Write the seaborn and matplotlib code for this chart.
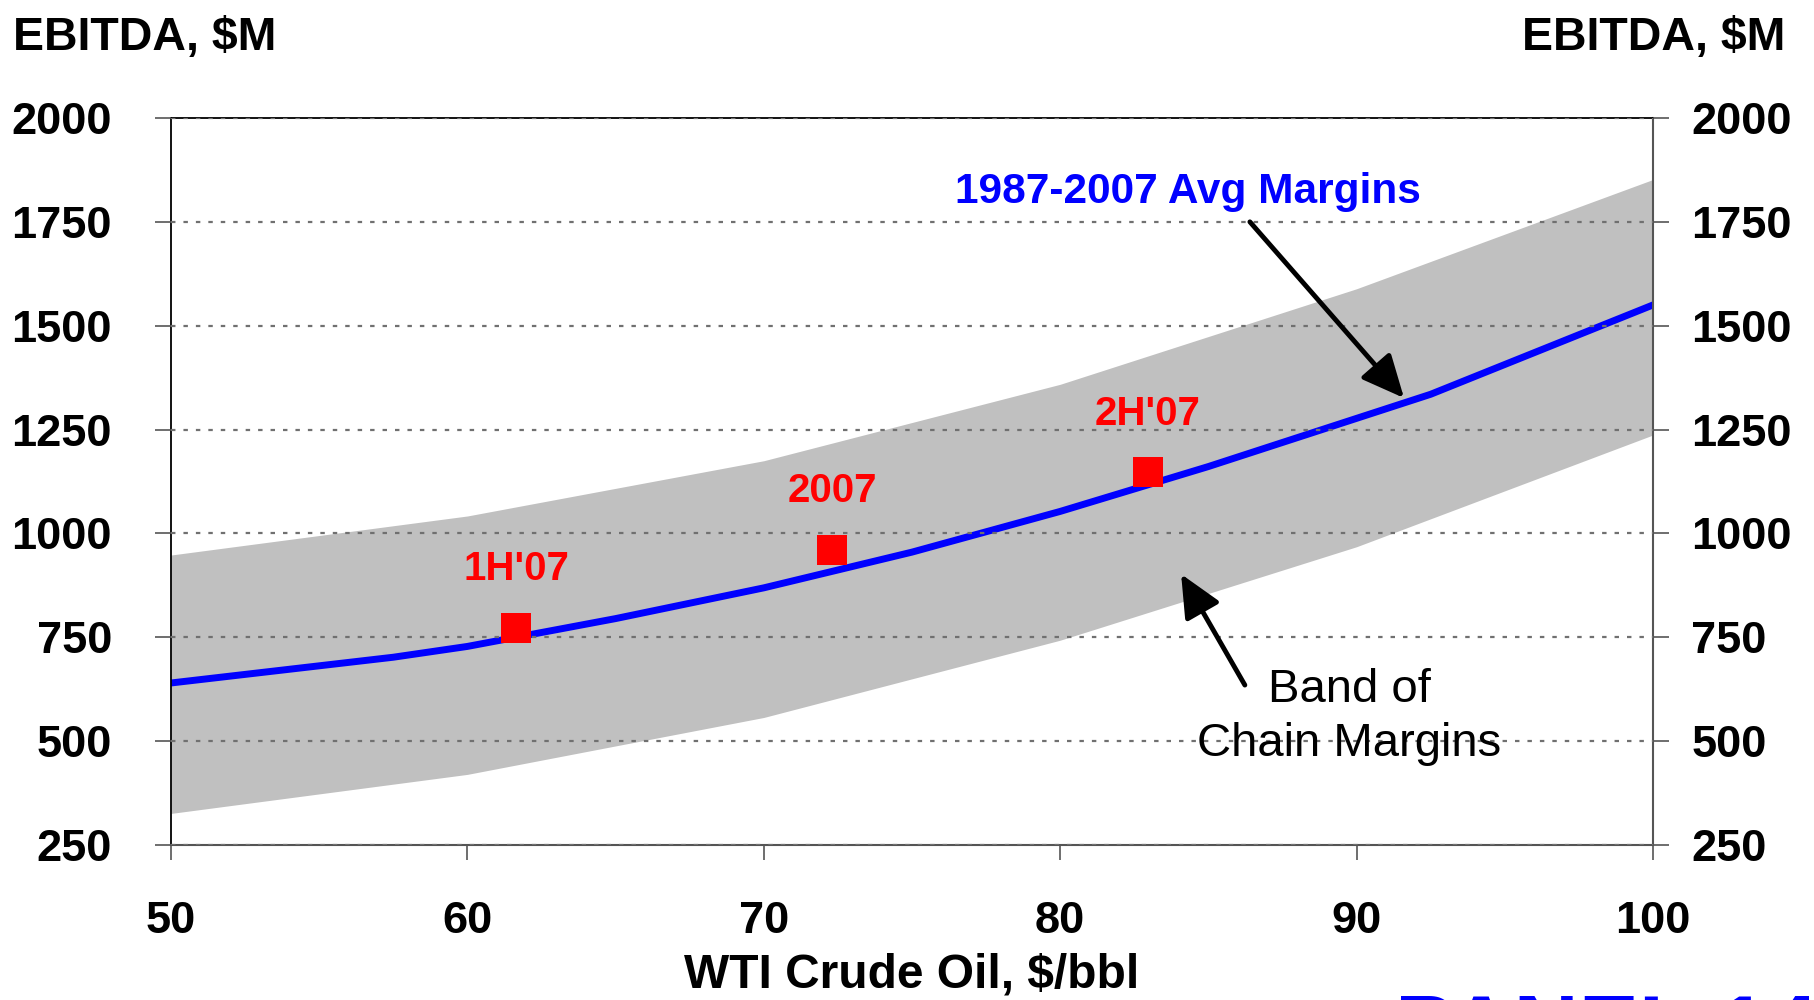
import matplotlib
matplotlib.use("Agg")
import matplotlib.pyplot as plt
import seaborn as sns
import pandas as pd

# ---- data ----
wti_line = [50, 57.5, 60, 65, 70, 75, 80, 85, 92.5, 100]
avg_margin = [640, 702, 728, 795, 869, 955, 1053, 1161, 1335, 1550]

band_x = [50, 60, 70, 80, 90, 100]
band_upper = [948, 1042, 1175, 1359, 1589, 1852]
band_lower = [326, 420, 557, 743, 968, 1237]

point_labels = ["1H'07", "2007", "2H'07"]
point_x = [61.65, 72.3, 82.95]
point_y = [773, 961, 1147]

x_ticks = [50, 60, 70, 80, 90, 100]
y_ticks = [250, 500, 750, 1000, 1250, 1500, 1750, 2000]

sns.set_style("white")
plt.rcParams["font.family"] = ["Liberation Sans", "DejaVu Sans"]
plt.rcParams["text.color"] = "black"
plt.rcParams["axes.labelcolor"] = "black"
plt.rcParams["xtick.color"] = "black"
plt.rcParams["ytick.color"] = "black"

fig = plt.figure(figsize=(18.15, 10), dpi=100)
ax = fig.add_axes([171 / 1815, 1 - 845 / 1000, (1653 - 171) / 1815, (845 - 118) / 1000])

# band
ax.fill_between(band_x, band_lower, band_upper, color="#C0C0C0", linewidth=0, zorder=1)

# average line
df_line = pd.DataFrame({"wti": wti_line, "ebitda": avg_margin})
sns.lineplot(data=df_line, x="wti", y="ebitda", ax=ax, color="#0000FF", linewidth=5,
             zorder=2, solid_capstyle="round")

# points
df_pts = pd.DataFrame({"wti": point_x, "ebitda": point_y, "label": point_labels})
sns.scatterplot(data=df_pts, x="wti", y="ebitda", ax=ax, marker="s", s=22 ** 2,
                color="#FF0000", linewidth=0, zorder=4, legend=False)
for lab, xx, yy in zip(point_labels, point_x, point_y):
    ax.annotate(lab, (xx, yy), xytext=(0, 42), textcoords="offset points",
                ha="center", va="center", fontsize=29, fontweight="bold",
                color="#FF0000", zorder=5)

ax.set_xlim(50, 100)
ax.set_ylim(250, 2000)
ax.set_xticks(x_ticks)
ax.set_yticks(y_ticks)
ax.set_xticklabels([str(v) for v in x_ticks])
ax.set_yticklabels([str(v) for v in y_ticks])

# grid (dashed gray, above the band and the line, below markers)
ax.set_axisbelow(False)
ax.yaxis.grid(True, color="#707070", linestyle=(0, (2.0, 3.6)), linewidth=1.6)
ax.xaxis.grid(False)

for side in ["top", "left"]:
    ax.spines[side].set_color("black")
    ax.spines[side].set_linewidth(1.3)
for side in ["bottom", "right"]:
    ax.spines[side].set_color("#555555")
    ax.spines[side].set_linewidth(1.5)

ax.tick_params(axis="y", which="both", direction="out", length=11.5, width=1.2,
               color="#555555", labelcolor="black", left=True, labelsize=32.5, pad=31)
ax.tick_params(axis="x", which="both", direction="out", length=11, width=1.2,
               color="#555555", labelcolor="black", bottom=True, labelsize=32.5, pad=29)
for t in ax.get_xticklabels() + ax.get_yticklabels():
    t.set_fontweight("bold")

ax.set_xlabel("WTI Crude Oil, $/bbl", fontsize=34.5, fontweight="bold", labelpad=8,
              color="black")
ax.set_ylabel("")

# right axis
ax2 = ax.twinx()
ax2.set_ylim(ax.get_ylim())
ax2.set_yticks(y_ticks)
ax2.set_yticklabels([str(v) for v in y_ticks])
ax2.tick_params(axis="y", direction="out", length=11.5, width=1.2, color="#555555",
                labelcolor="black", right=True, labelsize=32.5, pad=16)
for t in ax2.get_yticklabels():
    t.set_fontweight("bold")
for s in ax2.spines.values():
    s.set_visible(False)

# axis titles
fig.text(13 / 1815, 1 - 38 / 1000, "EBITDA, $M", ha="left", va="center",
         fontsize=33.5, fontweight="bold", color="black")
fig.text(1785 / 1815, 1 - 38 / 1000, "EBITDA, $M", ha="right", va="center",
         fontsize=33.5, fontweight="bold", color="black")

# annotations
arrow_props = dict(arrowstyle="-|>,head_length=1.3,head_width=0.6",
                   color="black", lw=3.5, shrinkA=0, shrinkB=0, mutation_scale=20)
ax.text(84.3, 1822, "1987-2007 Avg Margins", ha="center", va="center",
        fontsize=30.5, fontweight="bold", color="#0000FF", zorder=6)
ax.annotate("", xy=(91.6, 1326), xytext=(86.4, 1750), arrowprops=arrow_props, zorder=6)

ax.text(89.75, 558, "Band of\nChain Margins", ha="center", va="center",
        fontsize=34, color="black", linespacing=1.3, zorder=6)
ax.annotate("", xy=(84.08, 902), xytext=(86.23, 635), arrowprops=arrow_props, zorder=6)

# cut-off footer text
fig.text(1395 / 1815, 1 - 993 / 1000, "PANEL 14", ha="left", va="top",
         fontsize=65, fontweight="bold", color="#0000FF")

fig.savefig("out.png", dpi=100)
